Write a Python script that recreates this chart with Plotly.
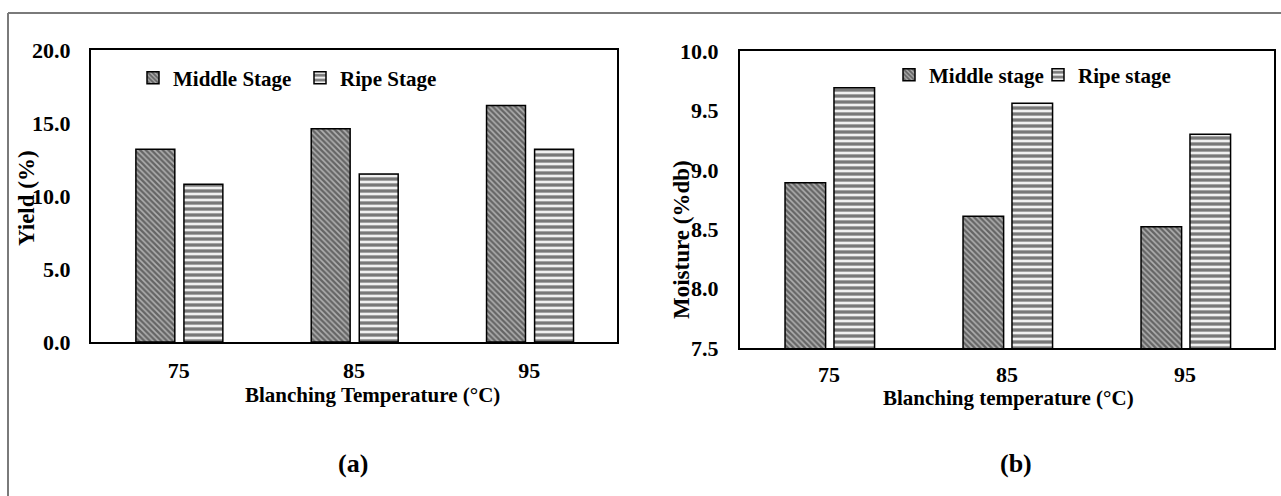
import plotly.graph_objects as go

# ---- data ----
temps = ["75", "85", "95"]
yield_middle = [13.2, 14.6, 16.2]
yield_ripe = [10.8, 11.5, 13.2]
moist_middle = [8.89, 8.61, 8.52]
moist_ripe = [9.69, 9.56, 9.30]
yield_ticks = [0, 5, 10, 15, 20]
moist_ticks = [7.5, 8.0, 8.5, 9.0, 9.5, 10.0]

W, H = 1281, 496
FONT = "Liberation Serif"


def px(x):
    return x / W


def py(y):
    return 1 - y / H


mid_pattern = dict(shape="\\", size=4, solidity=0.6, fgcolor="#1a1a1a", bgcolor="#b0b0b0")
ripe_pattern = dict(shape="-", size=6, solidity=0.55, fgcolor="#000000", bgcolor="#f0f0f0")
line = dict(color="black", width=1.5)

fig = go.Figure()
fig.add_trace(go.Bar(x=temps, y=yield_middle, name="Middle Stage", xaxis="x", yaxis="y",
                     width=0.222, offset=-0.244, legend="legend",
                     marker=dict(color="#b0b0b0", pattern=mid_pattern, line=line)))
fig.add_trace(go.Bar(x=temps, y=yield_ripe, name="Ripe Stage", xaxis="x", yaxis="y",
                     width=0.222, offset=0.030, legend="legend",
                     marker=dict(color="#f0f0f0", pattern=ripe_pattern, line=line)))
fig.add_trace(go.Bar(x=temps, y=moist_middle, name="Middle stage", xaxis="x2", yaxis="y2",
                     width=0.228, offset=-0.247, legend="legend2",
                     marker=dict(color="#b0b0b0", pattern=mid_pattern, line=line)))
fig.add_trace(go.Bar(x=temps, y=moist_ripe, name="Ripe stage", xaxis="x2", yaxis="y2",
                     width=0.228, offset=0.028, legend="legend2",
                     marker=dict(color="#f0f0f0", pattern=ripe_pattern, line=line)))

tickfont = dict(family=FONT, size=22, color="black", weight="bold")
axis_common = dict(showline=True, linecolor="black", linewidth=2, mirror=True,
                   showgrid=False, zeroline=False, ticks="", tickfont=tickfont)
legfont = dict(family=FONT, size=21, color="black", weight="bold")

fig.update_layout(
    width=W, height=H,
    margin=dict(l=0, r=0, t=0, b=0, autoexpand=False),
    paper_bgcolor="white", plot_bgcolor="white",
    barmode="overlay",
    xaxis=dict(domain=[px(91), px(617)], anchor="y", type="category",
               ticklabelstandoff=8, **axis_common),
    yaxis=dict(domain=[py(342), py(50)], anchor="x", range=[0, 20],
               tickvals=yield_ticks, tickformat=".1f", ticklabelstandoff=14, **axis_common),
    xaxis2=dict(domain=[px(740), px(1274)], anchor="y2", type="category",
                ticklabelstandoff=6, **axis_common),
    yaxis2=dict(domain=[py(348), py(51)], anchor="x2", range=[7.5, 10],
                tickvals=moist_ticks, tickformat=".1f", ticklabelstandoff=15, **axis_common),
    legend=dict(orientation="h", x=px(133), y=py(78), xanchor="left", yanchor="middle",
                entrywidth=122, bgcolor="rgba(0,0,0,0)", font=legfont),
    legend2=dict(orientation="h", x=px(889), y=py(75), xanchor="left", yanchor="middle",
                 entrywidth=104, bgcolor="rgba(0,0,0,0)", font=legfont),
)

ann_font = dict(family=FONT, size=21, color="black", weight="bold")
rot_font = dict(family=FONT, size=23, color="black", weight="bold")
annotations = [
    dict(text="Blanching Temperature (°C)", x=px(372), y=py(395), font=ann_font),
    dict(text="Blanching temperature (°C)", x=px(1008), y=py(398), font=ann_font),
    dict(text="Yield (%)", x=px(26), y=py(198), textangle=-90, font=rot_font),
    dict(text="Moisture (%db)", x=px(681), y=py(240), textangle=-90, font=rot_font),
]
for a in annotations:
    fig.add_annotation(xref="paper", yref="paper", showarrow=False, xanchor="center",
                       yanchor="middle", **a)
for lbl, x in [("(a)", 353), ("(b)", 1016)]:
    fig.add_annotation(text=lbl, xref="paper", yref="paper", x=px(x), y=py(463), showarrow=False,
                       xanchor="center", yanchor="middle",
                       font=dict(family=FONT, size=26, color="black", weight="bold"))

# outer frame (grey)
frame = dict(color="#7a7a7a", width=2)
fig.add_shape(type="line", xref="paper", yref="paper", x0=px(8), x1=1, y0=py(13), y1=py(13), line=frame)
fig.add_shape(type="line", xref="paper", yref="paper", x0=px(8), x1=px(8), y0=py(13), y1=0, line=frame)

post = ("document.body.style.margin='0';document.body.style.overflow='hidden';"
        "var d=document.getElementById('{plot_id}');d.style.position='fixed';"
        "d.style.left='0px';d.style.top='0px';")
fig.write_html("out.html", post_script=post, config={"displayModeBar": False})
